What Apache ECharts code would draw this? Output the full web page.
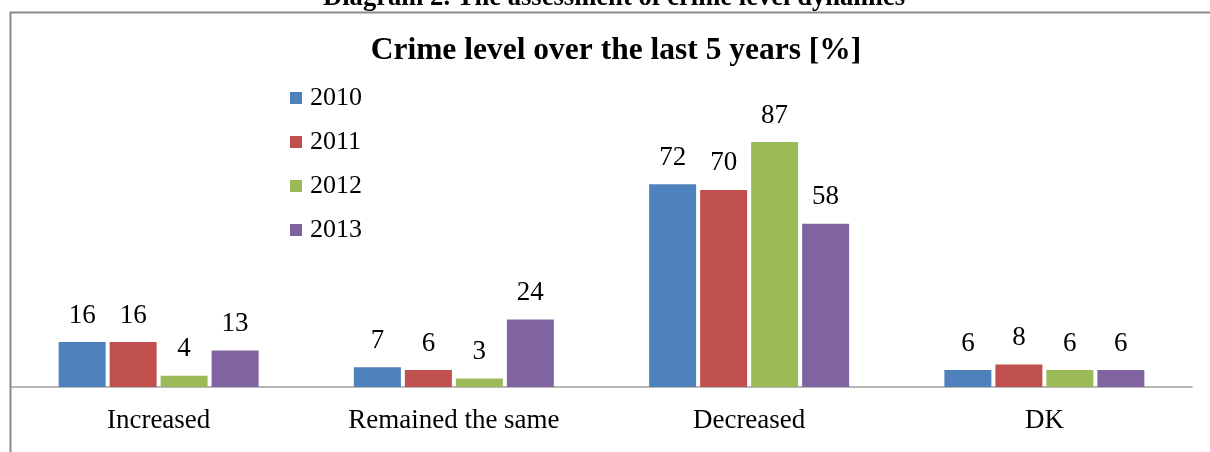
<!DOCTYPE html>
<html>
<head>
<meta charset="utf-8">
<script src="https://cdn.jsdelivr.net/npm/echarts@6/dist/echarts.min.js"></script>
<style>html,body{margin:0;padding:0;background:#fff}#c{width:1210px;height:452px}</style>
</head>
<body>
<div id="c"></div>
<script>
const categories = ['Increased', 'Remained the same', 'Decreased', 'DK'];
const years = ['2010', '2011', '2012', '2013'];
const v2010 = [16, 7, 72, 6];
const v2011 = [16, 6, 70, 8];
const v2012 = [4, 3, 87, 6];
const v2013 = [13, 24, 58, 6];
const colors = ['#4F81BD', '#C0504D', '#9BBB59', '#8064A2'];
const seriesValues = [v2010, v2011, v2012, v2013];
const FONT = '"Liberation Serif", "Times New Roman", serif';

const chart = echarts.init(document.getElementById('c'), null, {renderer: 'canvas'});
chart.setOption({
  animation: false,
  backgroundColor: '#fff',
  title: [
    {text: 'Crime level over the last 5 years [%]', left: 616, top: 35.5, padding: 0,
     textAlign: 'center',
     textStyle: {fontFamily: FONT, fontSize: 31.5, fontWeight: 'bold', color: '#000', lineHeight: 31.5}},
    {text: 'Diagram 2. The assessment of crime level dynamics', left: 614, top: -15, padding: 0,
     textAlign: 'center',
     textStyle: {fontFamily: FONT, fontSize: 26.6, fontWeight: 'bold', color: '#000', lineHeight: 26.6}}
  ],
  graphic: [{
    type: 'rect', silent: true, z: 100,
    shape: {x: 10.5, y: 12.5, width: 1400, height: 800},
    style: {fill: 'none', stroke: '#8a8a8a', lineWidth: 2}
  }],
  legend: {
    orient: 'vertical', left: 290, top: 85, padding: 0,
    itemWidth: 12, itemHeight: 12, itemGap: 18, icon: 'rect',
    textStyle: {fontFamily: FONT, fontSize: 26, color: '#000', lineHeight: 26, padding: [0, 0, 0, 3]},
    data: years
  },
  grid: {left: 11, right: 18, top: 105.4, bottom: 65, containLabel: false},
  xAxis: {
    type: 'category', data: categories,
    axisLine: {lineStyle: {color: '#a0a0a0', width: 1.5}},
    axisTick: {show: false},
    axisLabel: {fontFamily: FONT, fontSize: 27, color: '#000', margin: 20, interval: 0}
  },
  yAxis: {type: 'value', min: 0, max: 100, show: false, splitLine: {show: false}},
  series: years.map((y, i) => ({
    name: y, type: 'bar', data: seriesValues[i],
    barWidth: 47, barGap: '8.5%',
    itemStyle: {color: colors[i]},
    label: {show: true, position: 'top', distance: 13, fontFamily: FONT, fontSize: 27, color: '#000'}
  }))
});
</script>
</body>
</html>
